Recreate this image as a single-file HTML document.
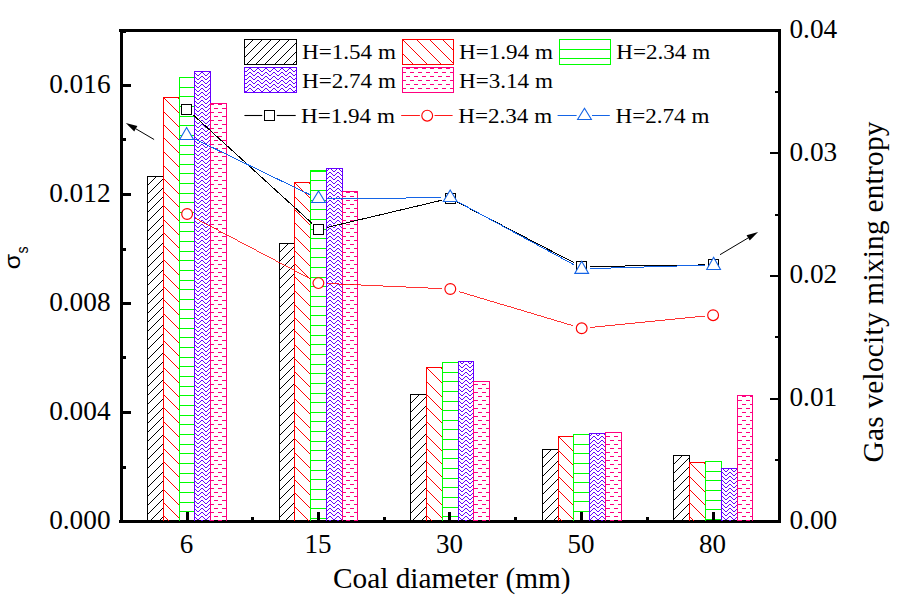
<!DOCTYPE html>
<html><head><meta charset="utf-8"><title>chart</title>
<style>html,body{margin:0;padding:0;background:#fff;}svg{display:block;}text{font-family:"Liberation Serif",serif;fill:#000;}.sans{font-family:"Liberation Sans",sans-serif;}</style></head><body>
<svg width="899" height="602" viewBox="0 0 899 602">
<rect x="0" y="0" width="899" height="602" fill="#ffffff"/>
<defs>
<pattern id="pz" x="0" y="0" width="8" height="4" patternUnits="userSpaceOnUse" shape-rendering="crispEdges"><path fill="#6600ff" d="M1 0h2v1h-2zM3 1h1v1h-1zM0 1h1v1h-1zM4 2h1v1h-1zM7 2h1v1h-1zM5 3h2v1h-2z"/></pattern>
<pattern id="pd" x="0" y="0" width="8" height="8" patternUnits="userSpaceOnUse" shape-rendering="crispEdges"><path fill="#ff0080" d="M2 0h4v1h-4zM6 4h2v1h-2zM0 4h2v1h-2z"/></pattern>
</defs>
<g id="axes" fill="#000" shape-rendering="crispEdges">
<rect x="120" y="29" width="3" height="494"/>
<rect x="778" y="29" width="3" height="494"/>
<rect x="119" y="29" width="662" height="3"/>
<rect x="119" y="520" width="662" height="3"/>
</g>
<g id="bars">
<clipPath id="c1"><rect x="147.50" y="176.50" width="16.00" height="344.50"/></clipPath><path clip-path="url(#c1)" d="M146.50 186.50 L157.50 175.50M146.50 195.50 L166.50 175.50M146.50 204.50 L175.50 175.50M146.50 213.50 L184.50 175.50M146.50 222.50 L193.50 175.50M146.50 232.50 L203.50 175.50M146.50 241.50 L212.50 175.50M146.50 250.50 L221.50 175.50M146.50 259.50 L230.50 175.50M146.50 268.50 L239.50 175.50M146.50 277.50 L248.50 175.50M146.50 286.50 L257.50 175.50M146.50 296.50 L267.50 175.50M146.50 305.50 L276.50 175.50M146.50 314.50 L285.50 175.50M146.50 323.50 L294.50 175.50M146.50 332.50 L303.50 175.50M146.50 341.50 L312.50 175.50M146.50 350.50 L321.50 175.50M146.50 360.50 L331.50 175.50M146.50 369.50 L340.50 175.50M146.50 378.50 L349.50 175.50M146.50 387.50 L358.50 175.50M146.50 396.50 L367.50 175.50M146.50 405.50 L376.50 175.50M146.50 415.50 L386.50 175.50M146.50 424.50 L395.50 175.50M146.50 433.50 L404.50 175.50M146.50 442.50 L413.50 175.50M146.50 451.50 L422.50 175.50M146.50 460.50 L431.50 175.50M146.50 469.50 L440.50 175.50M146.50 479.50 L450.50 175.50M146.50 488.50 L459.50 175.50M146.50 497.50 L468.50 175.50M146.50 506.50 L477.50 175.50M146.50 515.50 L486.50 175.50M146.50 524.50 L495.50 175.50M146.50 533.50 L504.50 175.50M146.50 543.50 L514.50 175.50" fill="none" stroke="#000000" stroke-width="1.00" shape-rendering="crispEdges"/><path d="M147.50 521.00 V176.50 H163.50 V521.00" fill="none" stroke="#000000" stroke-width="1" shape-rendering="crispEdges"/>
<clipPath id="c2"><rect x="163.50" y="97.50" width="16.00" height="423.50"/></clipPath><path clip-path="url(#c2)" d="M-283.50 96.50 L142.00 522.00M-269.50 96.50 L156.00 522.00M-255.50 96.50 L170.00 522.00M-242.50 96.50 L183.00 522.00M-229.50 96.50 L196.00 522.00M-215.50 96.50 L210.00 522.00M-201.50 96.50 L224.00 522.00M-188.50 96.50 L237.00 522.00M-175.50 96.50 L250.00 522.00M-161.50 96.50 L264.00 522.00M-147.50 96.50 L278.00 522.00M-134.50 96.50 L291.00 522.00M-121.50 96.50 L304.00 522.00M-107.50 96.50 L318.00 522.00M-93.50 96.50 L332.00 522.00M-80.50 96.50 L345.00 522.00M-67.50 96.50 L358.00 522.00M-53.50 96.50 L372.00 522.00M-39.50 96.50 L386.00 522.00M-26.50 96.50 L399.00 522.00M-13.50 96.50 L412.00 522.00M0.50 96.50 L426.00 522.00M14.50 96.50 L440.00 522.00M27.50 96.50 L453.00 522.00M40.50 96.50 L466.00 522.00M54.50 96.50 L480.00 522.00M68.50 96.50 L494.00 522.00M81.50 96.50 L507.00 522.00M94.50 96.50 L520.00 522.00M108.50 96.50 L534.00 522.00M122.50 96.50 L548.00 522.00M135.50 96.50 L561.00 522.00M148.50 96.50 L574.00 522.00M162.50 96.50 L588.00 522.00M176.50 96.50 L602.00 522.00M189.50 96.50 L615.00 522.00" fill="none" stroke="#ff0000" stroke-width="1.00" shape-rendering="crispEdges"/><path d="M163.50 521.00 V97.50 H179.50 V521.00" fill="none" stroke="#ff0000" stroke-width="1" shape-rendering="crispEdges"/>
<clipPath id="c3"><rect x="179.50" y="77.50" width="15.00" height="443.50"/></clipPath><path clip-path="url(#c3)" d="M179.50 87.50 H194.50M179.50 96.50 H194.50M179.50 106.50 H194.50M179.50 116.50 H194.50M179.50 125.50 H194.50M179.50 135.50 H194.50M179.50 145.50 H194.50M179.50 154.50 H194.50M179.50 164.50 H194.50M179.50 173.50 H194.50M179.50 183.50 H194.50M179.50 193.50 H194.50M179.50 202.50 H194.50M179.50 212.50 H194.50M179.50 222.50 H194.50M179.50 231.50 H194.50M179.50 241.50 H194.50M179.50 251.50 H194.50M179.50 260.50 H194.50M179.50 270.50 H194.50M179.50 280.50 H194.50M179.50 289.50 H194.50M179.50 299.50 H194.50M179.50 309.50 H194.50M179.50 318.50 H194.50M179.50 328.50 H194.50M179.50 337.50 H194.50M179.50 347.50 H194.50M179.50 357.50 H194.50M179.50 366.50 H194.50M179.50 376.50 H194.50M179.50 386.50 H194.50M179.50 395.50 H194.50M179.50 405.50 H194.50M179.50 415.50 H194.50M179.50 424.50 H194.50M179.50 434.50 H194.50M179.50 444.50 H194.50M179.50 453.50 H194.50M179.50 463.50 H194.50M179.50 473.50 H194.50M179.50 482.50 H194.50M179.50 492.50 H194.50M179.50 502.50 H194.50M179.50 511.50 H194.50" fill="none" stroke="#00ff00" stroke-width="1.00" shape-rendering="crispEdges"/><path d="M179.50 521.00 V77.50 H194.50 V521.00" fill="none" stroke="#00ff00" stroke-width="1" shape-rendering="crispEdges"/>
<rect x="194.50" y="71.50" width="16.00" height="449.50" fill="url(#pz)" shape-rendering="crispEdges"/><path d="M194.50 521.00 V71.50 H210.50 V521.00" fill="none" stroke="#6600ff" stroke-width="1" shape-rendering="crispEdges"/>
<rect x="210.50" y="103.50" width="16.00" height="417.50" fill="url(#pd)" shape-rendering="crispEdges"/><path d="M210.50 521.00 V103.50 H226.50 V521.00" fill="none" stroke="#ff0080" stroke-width="1" shape-rendering="crispEdges"/>
<clipPath id="c6"><rect x="279.50" y="243.50" width="15.00" height="277.50"/></clipPath><path clip-path="url(#c6)" d="M278.50 253.50 L289.50 242.50M278.50 262.50 L298.50 242.50M278.50 271.50 L307.50 242.50M278.50 280.50 L316.50 242.50M278.50 289.50 L325.50 242.50M278.50 299.50 L335.50 242.50M278.50 308.50 L344.50 242.50M278.50 317.50 L353.50 242.50M278.50 326.50 L362.50 242.50M278.50 335.50 L371.50 242.50M278.50 344.50 L380.50 242.50M278.50 353.50 L389.50 242.50M278.50 363.50 L399.50 242.50M278.50 372.50 L408.50 242.50M278.50 381.50 L417.50 242.50M278.50 390.50 L426.50 242.50M278.50 399.50 L435.50 242.50M278.50 408.50 L444.50 242.50M278.50 417.50 L453.50 242.50M278.50 427.50 L463.50 242.50M278.50 436.50 L472.50 242.50M278.50 445.50 L481.50 242.50M278.50 454.50 L490.50 242.50M278.50 463.50 L499.50 242.50M278.50 472.50 L508.50 242.50M278.50 482.50 L518.50 242.50M278.50 491.50 L527.50 242.50M278.50 500.50 L536.50 242.50M278.50 509.50 L545.50 242.50M278.50 518.50 L554.50 242.50M278.50 527.50 L563.50 242.50M278.50 536.50 L572.50 242.50" fill="none" stroke="#000000" stroke-width="1.00" shape-rendering="crispEdges"/><path d="M279.50 521.00 V243.50 H294.50 V521.00" fill="none" stroke="#000000" stroke-width="1" shape-rendering="crispEdges"/>
<clipPath id="c7"><rect x="294.50" y="182.50" width="16.00" height="338.50"/></clipPath><path clip-path="url(#c7)" d="M-70.50 181.50 L270.00 522.00M-57.50 181.50 L283.00 522.00M-44.50 181.50 L296.00 522.00M-30.50 181.50 L310.00 522.00M-16.50 181.50 L324.00 522.00M-3.50 181.50 L337.00 522.00M9.50 181.50 L350.00 522.00M23.50 181.50 L364.00 522.00M37.50 181.50 L378.00 522.00M50.50 181.50 L391.00 522.00M63.50 181.50 L404.00 522.00M77.50 181.50 L418.00 522.00M91.50 181.50 L432.00 522.00M104.50 181.50 L445.00 522.00M117.50 181.50 L458.00 522.00M131.50 181.50 L472.00 522.00M145.50 181.50 L486.00 522.00M158.50 181.50 L499.00 522.00M171.50 181.50 L512.00 522.00M185.50 181.50 L526.00 522.00M199.50 181.50 L540.00 522.00M212.50 181.50 L553.00 522.00M225.50 181.50 L566.00 522.00M239.50 181.50 L580.00 522.00M253.50 181.50 L594.00 522.00M266.50 181.50 L607.00 522.00M279.50 181.50 L620.00 522.00M293.50 181.50 L634.00 522.00M307.50 181.50 L648.00 522.00M320.50 181.50 L661.00 522.00" fill="none" stroke="#ff0000" stroke-width="1.00" shape-rendering="crispEdges"/><path d="M294.50 521.00 V182.50 H310.50 V521.00" fill="none" stroke="#ff0000" stroke-width="1" shape-rendering="crispEdges"/>
<clipPath id="c8"><rect x="310.50" y="170.50" width="16.00" height="350.50"/></clipPath><path clip-path="url(#c8)" d="M310.50 171.50 H326.50M310.50 180.50 H326.50M310.50 190.50 H326.50M310.50 200.50 H326.50M310.50 209.50 H326.50M310.50 219.50 H326.50M310.50 229.50 H326.50M310.50 238.50 H326.50M310.50 248.50 H326.50M310.50 257.50 H326.50M310.50 267.50 H326.50M310.50 277.50 H326.50M310.50 286.50 H326.50M310.50 296.50 H326.50M310.50 306.50 H326.50M310.50 315.50 H326.50M310.50 325.50 H326.50M310.50 335.50 H326.50M310.50 344.50 H326.50M310.50 354.50 H326.50M310.50 364.50 H326.50M310.50 373.50 H326.50M310.50 383.50 H326.50M310.50 393.50 H326.50M310.50 402.50 H326.50M310.50 412.50 H326.50M310.50 421.50 H326.50M310.50 431.50 H326.50M310.50 441.50 H326.50M310.50 450.50 H326.50M310.50 460.50 H326.50M310.50 470.50 H326.50M310.50 479.50 H326.50M310.50 489.50 H326.50M310.50 499.50 H326.50M310.50 508.50 H326.50M310.50 518.50 H326.50" fill="none" stroke="#00ff00" stroke-width="1.00" shape-rendering="crispEdges"/><path d="M310.50 521.00 V170.50 H326.50 V521.00" fill="none" stroke="#00ff00" stroke-width="1" shape-rendering="crispEdges"/>
<rect x="326.50" y="168.50" width="16.00" height="352.50" fill="url(#pz)" shape-rendering="crispEdges"/><path d="M326.50 521.00 V168.50 H342.50 V521.00" fill="none" stroke="#6600ff" stroke-width="1" shape-rendering="crispEdges"/>
<rect x="342.50" y="191.50" width="15.00" height="329.50" fill="url(#pd)" shape-rendering="crispEdges"/><path d="M342.50 521.00 V191.50 H357.50 V521.00" fill="none" stroke="#ff0080" stroke-width="1" shape-rendering="crispEdges"/>
<clipPath id="c11"><rect x="410.50" y="394.50" width="16.00" height="126.50"/></clipPath><path clip-path="url(#c11)" d="M409.50 404.50 L420.50 393.50M409.50 413.50 L429.50 393.50M409.50 422.50 L438.50 393.50M409.50 431.50 L447.50 393.50M409.50 440.50 L456.50 393.50M409.50 450.50 L466.50 393.50M409.50 459.50 L475.50 393.50M409.50 468.50 L484.50 393.50M409.50 477.50 L493.50 393.50M409.50 486.50 L502.50 393.50M409.50 495.50 L511.50 393.50M409.50 504.50 L520.50 393.50M409.50 514.50 L530.50 393.50M409.50 523.50 L539.50 393.50M409.50 532.50 L548.50 393.50M409.50 541.50 L557.50 393.50" fill="none" stroke="#000000" stroke-width="1.00" shape-rendering="crispEdges"/><path d="M410.50 521.00 V394.50 H426.50 V521.00" fill="none" stroke="#000000" stroke-width="1" shape-rendering="crispEdges"/>
<clipPath id="c12"><rect x="426.50" y="367.50" width="16.00" height="153.50"/></clipPath><path clip-path="url(#c12)" d="M249.50 366.50 L405.00 522.00M263.50 366.50 L419.00 522.00M277.50 366.50 L433.00 522.00M290.50 366.50 L446.00 522.00M303.50 366.50 L459.00 522.00M317.50 366.50 L473.00 522.00M331.50 366.50 L487.00 522.00M344.50 366.50 L500.00 522.00M357.50 366.50 L513.00 522.00M371.50 366.50 L527.00 522.00M385.50 366.50 L541.00 522.00M398.50 366.50 L554.00 522.00M411.50 366.50 L567.00 522.00M425.50 366.50 L581.00 522.00M439.50 366.50 L595.00 522.00M452.50 366.50 L608.00 522.00" fill="none" stroke="#ff0000" stroke-width="1.00" shape-rendering="crispEdges"/><path d="M426.50 521.00 V367.50 H442.50 V521.00" fill="none" stroke="#ff0000" stroke-width="1" shape-rendering="crispEdges"/>
<clipPath id="c13"><rect x="442.50" y="362.50" width="16.00" height="158.50"/></clipPath><path clip-path="url(#c13)" d="M442.50 372.50 H458.50M442.50 381.50 H458.50M442.50 391.50 H458.50M442.50 401.50 H458.50M442.50 410.50 H458.50M442.50 420.50 H458.50M442.50 429.50 H458.50M442.50 439.50 H458.50M442.50 449.50 H458.50M442.50 458.50 H458.50M442.50 468.50 H458.50M442.50 478.50 H458.50M442.50 487.50 H458.50M442.50 497.50 H458.50M442.50 507.50 H458.50M442.50 516.50 H458.50" fill="none" stroke="#00ff00" stroke-width="1.00" shape-rendering="crispEdges"/><path d="M442.50 521.00 V362.50 H458.50 V521.00" fill="none" stroke="#00ff00" stroke-width="1" shape-rendering="crispEdges"/>
<rect x="458.50" y="361.50" width="15.00" height="159.50" fill="url(#pz)" shape-rendering="crispEdges"/><path d="M458.50 521.00 V361.50 H473.50 V521.00" fill="none" stroke="#6600ff" stroke-width="1" shape-rendering="crispEdges"/>
<rect x="473.50" y="381.50" width="16.00" height="139.50" fill="url(#pd)" shape-rendering="crispEdges"/><path d="M473.50 521.00 V381.50 H489.50 V521.00" fill="none" stroke="#ff0080" stroke-width="1" shape-rendering="crispEdges"/>
<clipPath id="c16"><rect x="542.50" y="449.50" width="16.00" height="71.50"/></clipPath><path clip-path="url(#c16)" d="M541.50 459.50 L552.50 448.50M541.50 468.50 L561.50 448.50M541.50 477.50 L570.50 448.50M541.50 486.50 L579.50 448.50M541.50 495.50 L588.50 448.50M541.50 505.50 L598.50 448.50M541.50 514.50 L607.50 448.50M541.50 523.50 L616.50 448.50M541.50 532.50 L625.50 448.50M541.50 541.50 L634.50 448.50" fill="none" stroke="#000000" stroke-width="1.00" shape-rendering="crispEdges"/><path d="M542.50 521.00 V449.50 H558.50 V521.00" fill="none" stroke="#000000" stroke-width="1" shape-rendering="crispEdges"/>
<clipPath id="c17"><rect x="558.50" y="436.50" width="15.00" height="84.50"/></clipPath><path clip-path="url(#c17)" d="M449.50 435.50 L536.00 522.00M463.50 435.50 L550.00 522.00M476.50 435.50 L563.00 522.00M489.50 435.50 L576.00 522.00M503.50 435.50 L590.00 522.00M517.50 435.50 L604.00 522.00M530.50 435.50 L617.00 522.00M543.50 435.50 L630.00 522.00M557.50 435.50 L644.00 522.00M571.50 435.50 L658.00 522.00M584.50 435.50 L671.00 522.00" fill="none" stroke="#ff0000" stroke-width="1.00" shape-rendering="crispEdges"/><path d="M558.50 521.00 V436.50 H573.50 V521.00" fill="none" stroke="#ff0000" stroke-width="1" shape-rendering="crispEdges"/>
<clipPath id="c18"><rect x="573.50" y="434.50" width="16.00" height="86.50"/></clipPath><path clip-path="url(#c18)" d="M573.50 444.50 H589.50M573.50 453.50 H589.50M573.50 463.50 H589.50M573.50 473.50 H589.50M573.50 482.50 H589.50M573.50 492.50 H589.50M573.50 501.50 H589.50M573.50 511.50 H589.50" fill="none" stroke="#00ff00" stroke-width="1.00" shape-rendering="crispEdges"/><path d="M573.50 521.00 V434.50 H589.50 V521.00" fill="none" stroke="#00ff00" stroke-width="1" shape-rendering="crispEdges"/>
<rect x="589.50" y="433.50" width="16.00" height="87.50" fill="url(#pz)" shape-rendering="crispEdges"/><path d="M589.50 521.00 V433.50 H605.50 V521.00" fill="none" stroke="#6600ff" stroke-width="1" shape-rendering="crispEdges"/>
<rect x="605.50" y="432.50" width="16.00" height="88.50" fill="url(#pd)" shape-rendering="crispEdges"/><path d="M605.50 521.00 V432.50 H621.50 V521.00" fill="none" stroke="#ff0080" stroke-width="1" shape-rendering="crispEdges"/>
<clipPath id="c21"><rect x="673.50" y="455.50" width="16.00" height="65.50"/></clipPath><path clip-path="url(#c21)" d="M672.50 465.50 L683.50 454.50M672.50 474.50 L692.50 454.50M672.50 483.50 L701.50 454.50M672.50 492.50 L710.50 454.50M672.50 501.50 L719.50 454.50M672.50 511.50 L729.50 454.50M672.50 520.50 L738.50 454.50M672.50 529.50 L747.50 454.50M672.50 538.50 L756.50 454.50" fill="none" stroke="#000000" stroke-width="1.00" shape-rendering="crispEdges"/><path d="M673.50 521.00 V455.50 H689.50 V521.00" fill="none" stroke="#000000" stroke-width="1" shape-rendering="crispEdges"/>
<clipPath id="c22"><rect x="689.50" y="462.50" width="16.00" height="58.50"/></clipPath><path clip-path="url(#c22)" d="M607.50 461.50 L668.00 522.00M620.50 461.50 L681.00 522.00M634.50 461.50 L695.00 522.00M648.50 461.50 L709.00 522.00M661.50 461.50 L722.00 522.00M674.50 461.50 L735.00 522.00M688.50 461.50 L749.00 522.00M702.50 461.50 L763.00 522.00M715.50 461.50 L776.00 522.00" fill="none" stroke="#ff0000" stroke-width="1.00" shape-rendering="crispEdges"/><path d="M689.50 521.00 V462.50 H705.50 V521.00" fill="none" stroke="#ff0000" stroke-width="1" shape-rendering="crispEdges"/>
<clipPath id="c23"><rect x="705.50" y="461.50" width="16.00" height="59.50"/></clipPath><path clip-path="url(#c23)" d="M705.50 471.50 H721.50M705.50 480.50 H721.50M705.50 490.50 H721.50M705.50 500.50 H721.50M705.50 509.50 H721.50M705.50 519.50 H721.50" fill="none" stroke="#00ff00" stroke-width="1.00" shape-rendering="crispEdges"/><path d="M705.50 521.00 V461.50 H721.50 V521.00" fill="none" stroke="#00ff00" stroke-width="1" shape-rendering="crispEdges"/>
<rect x="721.50" y="468.50" width="16.00" height="52.50" fill="url(#pz)" shape-rendering="crispEdges"/><path d="M721.50 521.00 V468.50 H737.50 V521.00" fill="none" stroke="#6600ff" stroke-width="1" shape-rendering="crispEdges"/>
<rect x="737.50" y="395.50" width="15.00" height="125.50" fill="url(#pd)" shape-rendering="crispEdges"/><path d="M737.50 521.00 V395.50 H752.50 V521.00" fill="none" stroke="#ff0080" stroke-width="1" shape-rendering="crispEdges"/>
</g>
<g id="ticks" fill="#000" shape-rendering="crispEdges">
<rect x="123" y="520.0" width="8" height="3"/>
<rect x="123" y="466.0" width="3" height="3"/>
<rect x="123" y="411.0" width="8" height="3"/>
<rect x="123" y="356.0" width="3" height="3"/>
<rect x="123" y="302.0" width="8" height="3"/>
<rect x="123" y="248.0" width="3" height="3"/>
<rect x="123" y="193.0" width="8" height="3"/>
<rect x="123" y="138.0" width="3" height="3"/>
<rect x="123" y="84.0" width="8" height="3"/>
<rect x="123" y="30.0" width="3" height="3"/>
<rect x="775" y="459.0" width="3" height="2"/>
<rect x="770" y="398.0" width="8" height="2"/>
<rect x="775" y="336.0" width="3" height="2"/>
<rect x="770" y="275.0" width="8" height="2"/>
<rect x="775" y="214.0" width="3" height="2"/>
<rect x="770" y="152.0" width="8" height="2"/>
<rect x="775" y="91.0" width="3" height="2"/>
<rect x="186.0" y="512" width="3" height="8"/>
<rect x="317.0" y="512" width="3" height="8"/>
<rect x="448.0" y="512" width="3" height="8"/>
<rect x="580.0" y="512" width="3" height="8"/>
<rect x="712.0" y="512" width="3" height="8"/>
<rect x="251.0" y="517" width="3" height="3"/>
<rect x="383.0" y="517" width="3" height="3"/>
<rect x="514.0" y="517" width="3" height="3"/>
<rect x="646.0" y="517" width="3" height="3"/>
</g>
<g id="series">
<line x1="193.05" y1="114.80" x2="312.35" y2="223.60" stroke="#000000" stroke-width="1.00" shape-rendering="crispEdges"/><line x1="327.07" y1="227.42" x2="441.63" y2="200.28" stroke="#000000" stroke-width="1.00" shape-rendering="crispEdges"/><line x1="457.63" y1="202.26" x2="573.87" y2="262.64" stroke="#000000" stroke-width="1.00" shape-rendering="crispEdges"/><line x1="590.10" y1="266.48" x2="704.90" y2="264.92" stroke="#000000" stroke-width="1.00" shape-rendering="crispEdges"/>
<rect x="181.50" y="104.50" width="10" height="10" fill="#fff" stroke="#000000" stroke-width="1" shape-rendering="crispEdges"/><rect x="313.50" y="224.50" width="10" height="10" fill="#fff" stroke="#000000" stroke-width="1" shape-rendering="crispEdges"/><rect x="445.50" y="193.50" width="10" height="10" fill="#fff" stroke="#000000" stroke-width="1" shape-rendering="crispEdges"/><rect x="576.50" y="261.50" width="10" height="10" fill="#fff" stroke="#000000" stroke-width="1" shape-rendering="crispEdges"/><rect x="708.50" y="259.50" width="10" height="10" fill="#fff" stroke="#000000" stroke-width="1" shape-rendering="crispEdges"/>
<line x1="194.71" y1="218.01" x2="310.79" y2="279.09" stroke="#ff0000" stroke-width="0.80" shape-rendering="crispEdges"/><line x1="326.99" y1="283.48" x2="441.71" y2="288.62" stroke="#ff0000" stroke-width="0.80" shape-rendering="crispEdges"/><line x1="458.54" y1="291.46" x2="573.46" y2="325.84" stroke="#ff0000" stroke-width="0.80" shape-rendering="crispEdges"/><line x1="590.26" y1="327.45" x2="704.54" y2="316.05" stroke="#ff0000" stroke-width="0.80" shape-rendering="crispEdges"/>
<circle cx="187.10" cy="214.00" r="5.4" fill="#fff" stroke="#ff0000" stroke-width="1.15"/><circle cx="318.40" cy="283.10" r="5.4" fill="#fff" stroke="#ff0000" stroke-width="1.15"/><circle cx="450.30" cy="289.00" r="5.4" fill="#fff" stroke="#ff0000" stroke-width="1.15"/><circle cx="581.70" cy="328.30" r="5.4" fill="#fff" stroke="#ff0000" stroke-width="1.15"/><circle cx="713.10" cy="315.20" r="5.4" fill="#fff" stroke="#ff0000" stroke-width="1.15"/>
<line x1="194.44" y1="138.84" x2="310.66" y2="195.06" stroke="#1464e6" stroke-width="1.00" shape-rendering="crispEdges"/><line x1="327.00" y1="198.72" x2="441.50" y2="197.68" stroke="#1464e6" stroke-width="1.00" shape-rendering="crispEdges"/><line x1="457.66" y1="201.70" x2="574.04" y2="264.80" stroke="#1464e6" stroke-width="1.00" shape-rendering="crispEdges"/><line x1="590.20" y1="268.64" x2="705.00" y2="265.16" stroke="#1464e6" stroke-width="1.00" shape-rendering="crispEdges"/>
<path d="M186.60 127.50 L193.50 139.50 L179.70 139.50 Z" fill="#fff" stroke="#1464e6" stroke-width="1.1" stroke-linejoin="miter"/><path d="M318.50 191.00 L325.40 202.50 L311.60 202.50 Z" fill="#fff" stroke="#1464e6" stroke-width="1.1" stroke-linejoin="miter"/><path d="M450.20 190.00 L457.10 201.50 L443.30 201.50 Z" fill="#fff" stroke="#1464e6" stroke-width="1.1" stroke-linejoin="miter"/><path d="M581.70 261.30 L588.60 273.40 L574.80 273.40 Z" fill="#fff" stroke="#1464e6" stroke-width="1.1" stroke-linejoin="miter"/><path d="M713.60 257.30 L720.50 269.50 L706.70 269.50 Z" fill="#fff" stroke="#1464e6" stroke-width="1.1" stroke-linejoin="miter"/>
</g>
<g id="arrows">
<line x1="154.10" y1="139.50" x2="135.81" y2="128.77" stroke="#000" stroke-width="1"/><path d="M125.80 122.90 L137.37 126.10 L134.24 131.44 Z" fill="#000"/>
<line x1="720.00" y1="254.70" x2="748.13" y2="237.94" stroke="#000" stroke-width="1"/><path d="M758.10 232.00 L749.72 240.60 L746.55 235.27 Z" fill="#000"/>
</g>
<g id="legend">
<clipPath id="c26"><rect x="244.50" y="39.50" width="52.00" height="25.00"/></clipPath><path clip-path="url(#c26)" d="M243.50 49.50 L254.50 38.50M243.50 58.50 L263.50 38.50M243.50 67.50 L272.50 38.50M243.50 76.50 L281.50 38.50M243.50 85.50 L290.50 38.50M243.50 95.50 L300.50 38.50M243.50 104.50 L309.50 38.50M243.50 113.50 L318.50 38.50M243.50 122.50 L327.50 38.50" fill="none" stroke="#000000" stroke-width="1.00" shape-rendering="crispEdges"/><rect x="244.50" y="39.50" width="52.00" height="25.00" fill="none" stroke="#000000" stroke-width="1"/>
<clipPath id="c27"><rect x="402.50" y="39.50" width="51.00" height="25.00"/></clipPath><path clip-path="url(#c27)" d="M361.50 38.50 L388.50 65.50M374.50 38.50 L401.50 65.50M387.50 38.50 L414.50 65.50M401.50 38.50 L428.50 65.50M415.50 38.50 L442.50 65.50M428.50 38.50 L455.50 65.50M441.50 38.50 L468.50 65.50M455.50 38.50 L482.50 65.50" fill="none" stroke="#ff0000" stroke-width="1.00" shape-rendering="crispEdges"/><rect x="402.50" y="39.50" width="51.00" height="25.00" fill="none" stroke="#ff0000" stroke-width="1"/>
<clipPath id="c28"><rect x="559.50" y="39.50" width="51.00" height="25.00"/></clipPath><path clip-path="url(#c28)" d="M559.50 49.50 H610.50M559.50 58.50 H610.50" fill="none" stroke="#00ff00" stroke-width="1.00" shape-rendering="crispEdges"/><rect x="559.50" y="39.50" width="51.00" height="25.00" fill="none" stroke="#00ff00" stroke-width="1"/>
<rect x="244.50" y="67.50" width="52.00" height="25.00" fill="url(#pz)" shape-rendering="crispEdges"/><rect x="244.50" y="67.50" width="52.00" height="25.00" fill="none" stroke="#6600ff" stroke-width="1"/>
<rect x="402.50" y="67.50" width="51.00" height="25.00" fill="url(#pd)" shape-rendering="crispEdges"/><rect x="402.50" y="67.50" width="51.00" height="25.00" fill="none" stroke="#ff0080" stroke-width="1"/>
<text transform="translate(302.0,58.5) scale(1.05,1)" font-size="22.00">H=1.54 m</text>
<text transform="translate(459.0,58.5) scale(1.05,1)" font-size="22.00">H=1.94 m</text>
<text transform="translate(616.3,58.5) scale(1.05,1)" font-size="22.00">H=2.34 m</text>
<text transform="translate(302.0,87.5) scale(1.05,1)" font-size="22.00">H=2.74 m</text>
<text transform="translate(459.0,87.5) scale(1.05,1)" font-size="22.00">H=3.14 m</text>
<text transform="translate(301.0,123.0) scale(1.05,1)" font-size="22.00">H=1.94 m</text>
<text transform="translate(458.3,123.0) scale(1.05,1)" font-size="22.00">H=2.34 m</text>
<text transform="translate(615.5,123.0) scale(1.05,1)" font-size="22.00">H=2.74 m</text>
<line x1="244.40" y1="115.50" x2="262.20" y2="115.50" stroke="#000000" stroke-width="1.10"/><line x1="276.80" y1="115.50" x2="295.70" y2="115.50" stroke="#000000" stroke-width="1.10"/>
<rect x="264.50" y="110.50" width="10" height="10" fill="#fff" stroke="#000000" stroke-width="1" shape-rendering="crispEdges"/>
<line x1="401.20" y1="115.50" x2="419.90" y2="115.50" stroke="#ff0000" stroke-width="0.90"/><line x1="434.50" y1="115.50" x2="452.60" y2="115.50" stroke="#ff0000" stroke-width="0.90"/>
<circle cx="427.20" cy="115.70" r="5.4" fill="#fff" stroke="#ff0000" stroke-width="1.15"/>
<line x1="557.60" y1="115.50" x2="576.60" y2="115.50" stroke="#1464e6" stroke-width="1.00"/><line x1="592.00" y1="115.50" x2="609.80" y2="115.50" stroke="#1464e6" stroke-width="1.00"/>
<path d="M584.50 108.30 L591.40 119.50 L577.60 119.50 Z" fill="#fff" stroke="#1464e6" stroke-width="1.1" stroke-linejoin="miter"/>
</g>
<g id="ticklabels" font-size="27.00">
<text transform="translate(110.6,528.8) scale(1.012,1)" text-anchor="end">0.000</text>
<text transform="translate(110.6,419.8) scale(1.012,1)" text-anchor="end">0.004</text>
<text transform="translate(110.6,310.8) scale(1.012,1)" text-anchor="end">0.008</text>
<text transform="translate(110.6,201.8) scale(1.012,1)" text-anchor="end">0.012</text>
<text transform="translate(110.6,92.8) scale(1.012,1)" text-anchor="end">0.016</text>
<text transform="translate(789.4,528.8) scale(1.012,1)">0.00</text>
<text transform="translate(789.4,406.1) scale(1.012,1)">0.01</text>
<text transform="translate(789.4,283.3) scale(1.012,1)">0.02</text>
<text transform="translate(789.4,160.6) scale(1.012,1)">0.03</text>
<text transform="translate(789.4,37.8) scale(1.012,1)">0.04</text>
<text x="186.4" y="552.8" text-anchor="middle">6</text>
<text x="317.9" y="552.8" text-anchor="middle">15</text>
<text x="449.4" y="552.8" text-anchor="middle">30</text>
<text x="580.9" y="552.8" text-anchor="middle">50</text>
<text x="712.4" y="552.8" text-anchor="middle">80</text>
</g>
<text x="333.0" y="587.5" font-size="29.33" textLength="237.5" lengthAdjust="spacing">Coal diameter (mm)</text>
<text transform="translate(882.6,462.5) rotate(-90)" font-size="29.33" textLength="341" lengthAdjust="spacing">Gas velocity mixing entropy</text>
<text class="sans" transform="translate(20.0,269.3) rotate(-90) scale(1.09,1)" font-size="22.8">&#963;</text>
<text class="sans" transform="translate(27.9,253.6) rotate(-90) scale(0.86,1)" font-size="16.5">s</text>
</svg></body></html>
